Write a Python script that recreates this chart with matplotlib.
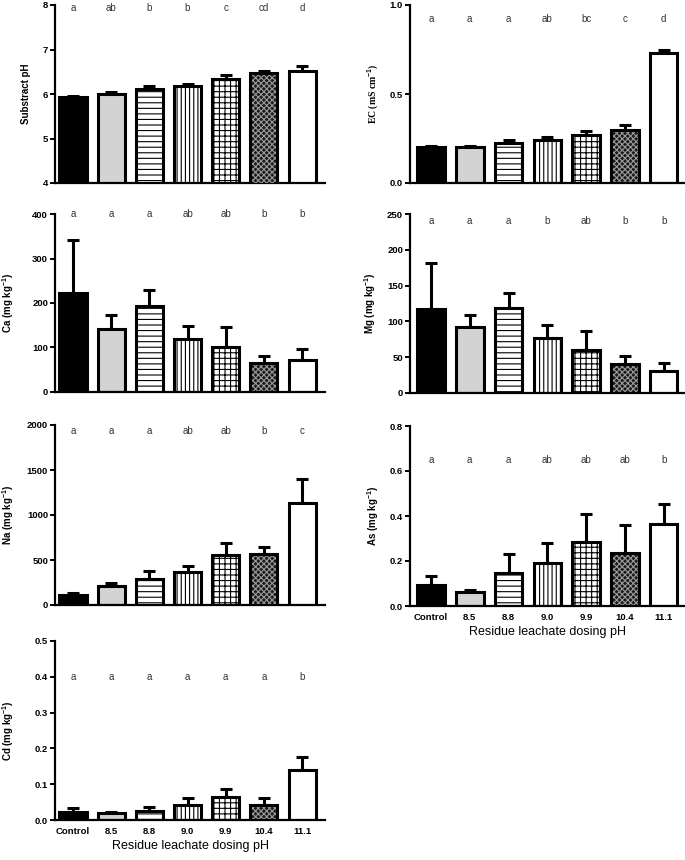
import matplotlib
matplotlib.use("Agg")
import matplotlib.pyplot as plt
import numpy as np

plt.rcParams['font.family'] = ['Liberation Sans', 'DejaVu Sans']
plt.rcParams['mathtext.fontset'] = 'custom'
plt.rcParams['mathtext.rm'] = 'Liberation Sans:bold'
plt.rcParams['mathtext.it'] = 'Liberation Sans:bold'
plt.rcParams['mathtext.bf'] = 'Liberation Sans:bold'
plt.rcParams['hatch.linewidth'] = 0.8

categories = ["Control", "8.5", "8.8", "9.0", "9.9", "10.4", "11.1"]

ph_mean = [5.93, 6.00, 6.11, 6.17, 6.34, 6.48, 6.52]
ph_err = [0.03, 0.04, 0.07, 0.05, 0.08, 0.04, 0.10]
ph_letters = ["a", "ab", "b", "b", "c", "cd", "d"]

ec_mean = [0.205, 0.200, 0.226, 0.239, 0.270, 0.297, 0.731]
ec_err = [0.005, 0.009, 0.015, 0.022, 0.023, 0.031, 0.015]
ec_letters = ["a", "a", "a", "ab", "bc", "c", "d"]

ca_mean = [221.7, 141.6, 194.0, 119.9, 101.0, 64.4, 71.2]
ca_err = [119.9, 32.2, 34.5, 29.1, 45.8, 15.6, 25.4]
ca_letters = ["a", "a", "a", "ab", "ab", "b", "b"]

mg_mean = [117.3, 92.0, 119.2, 77.1, 60.7, 40.7, 30.4]
mg_err = [64.9, 17.3, 21.0, 17.3, 25.7, 11.2, 11.2]
mg_letters = ["a", "a", "a", "b", "ab", "b", "b"]

na_mean = [107, 211, 293, 367, 552, 567, 1130]
na_err = [26, 33, 85, 66, 141, 74, 270]
na_letters = ["a", "a", "a", "ab", "ab", "b", "c"]

as_mean = [0.095, 0.061, 0.145, 0.191, 0.286, 0.234, 0.366]
as_err = [0.040, 0.009, 0.085, 0.089, 0.123, 0.126, 0.087]
as_letters = ["a", "a", "a", "ab", "ab", "ab", "b"]

cd_mean = [0.023, 0.0186, 0.026, 0.0427, 0.063, 0.0427, 0.139]
cd_err = [0.0095, 0.0037, 0.011, 0.020, 0.0224, 0.020, 0.0356]
cd_letters = ["a", "a", "a", "a", "a", "a", "b"]

faces = ["black", "#d3d3d3", "white", "white", "white", "#1a1a1a", "white"]
hatches = [None, None, "---", "||||", "+++", "xxxxxx", None]
hatch_colors = ["black", "black", "black", "black", "black", "#9a9a9a", "black"]

W, H = 685, 860
fig = plt.figure(figsize=(W / 100, H / 100), dpi=100)


def make_ax(x0, x1, ytop, ybot):
    return fig.add_axes([x0 / W, 1 - ybot / H, (x1 - x0) / W, (ybot - ytop) / H])


panels = [
    (ph_mean, ph_err, ph_letters, (4, 8), [4, 5, 6, 7, 8], ["4", "5", "6", "7", "8"],
     "Substract pH", 7.93, (55, 325, 5, 183), (-0.47, 6.6), 31, False, False),
    (ec_mean, ec_err, ec_letters, (0, 1.0), [0, 0.5, 1.0], ["0.0", "0.5", "1.0"],
     r"EC (mS cm$^{-1}$)", 0.92, (410, 685, 5, 183), (-0.54, 6.55), 381, False, True),
    (ca_mean, ca_err, ca_letters, (0, 400), [0, 100, 200, 300, 400], None,
     r"Ca (mg kg$^{-1}$)", 400, (55, 325, 214, 392), (-0.47, 6.6), 16, False, False),
    (mg_mean, mg_err, mg_letters, (0, 250), [0, 50, 100, 150, 200, 250], None,
     r"Mg (mg kg$^{-1}$)", 240, (410, 685, 214, 393), (-0.54, 6.55), 378, False, False),
    (na_mean, na_err, na_letters, (0, 2000), [0, 500, 1000, 1500, 2000], None,
     r"Na (mg kg$^{-1}$)", 1937, (55, 325, 425, 605), (-0.47, 6.6), 16, False, False),
    (as_mean, as_err, as_letters, (0, 0.8), [0, 0.2, 0.4, 0.6, 0.8], ["0.0", "0.2", "0.4", "0.6", "0.8"],
     r"As (mg kg$^{-1}$)", 0.647, (410, 685, 426, 606), (-0.54, 6.55), 381, True, False),
    (cd_mean, cd_err, cd_letters, (0, 0.5), [0, 0.1, 0.2, 0.3, 0.4, 0.5], ["0.0", "0.1", "0.2", "0.3", "0.4", "0.5"],
     r"Cd (mg kg$^{-1}$)", 0.40, (55, 325, 641, 820), (-0.47, 6.6), 16, True, False),
]

for (mean, err, letters, ylim, ticks, tlabels, ylabel, ly, pos, xlim, labx, bottom, serif) in panels:
    ax = make_ax(*pos)
    x = np.arange(len(categories))
    ax.errorbar(x, mean, yerr=[np.zeros(len(err)), err], fmt='none', ecolor='black',
                elinewidth=2.2, capsize=4.5, capthick=2.2, zorder=1, clip_on=False)
    for i in range(len(categories)):
        ax.bar(x[i], mean[i], width=0.71, color=faces[i], linewidth=0, zorder=2)
        if hatches[i]:
            ax.bar(x[i], mean[i], width=0.71, color='none', edgecolor=hatch_colors[i],
                   linewidth=0, hatch=hatches[i], zorder=3)
        ax.bar(x[i], mean[i], width=0.71, color='none', edgecolor='black',
               linewidth=2.2, zorder=4)
    for i, t in enumerate(letters):
        ax.text(x[i], ly, t, ha='center', va='center', fontsize=7, color='#333333')
    ax.set_ylim(*ylim)
    ax.set_xlim(*xlim)
    ax.set_yticks(ticks)
    if tlabels is not None:
        ax.set_yticklabels(tlabels)
    ax.spines['top'].set_visible(False)
    ax.spines['right'].set_visible(False)
    ax.spines['left'].set_linewidth(1.6)
    ax.spines['bottom'].set_linewidth(1.6)
    ax.tick_params(axis='y', direction='out', length=3.5, width=1.4, pad=1.5,
                   labelsize=6.8)
    for lab in ax.get_yticklabels():
        lab.set_fontweight('bold')
    ax.tick_params(axis='x', length=0, pad=5, labelsize=6.8)
    ax.set_xticks(x)
    if bottom:
        ax.set_xticklabels(categories, fontweight='bold')
        ax.set_xlabel("Residue leachate dosing pH", fontsize=9, labelpad=3)
    else:
        ax.set_xticklabels([])
    if serif:
        ax.set_ylabel(ylabel, fontsize=7, fontweight='bold', family='Liberation Serif')
    else:
        ax.set_ylabel(ylabel, fontsize=7, fontweight='bold')
    axw = pos[1] - pos[0]
    ax.yaxis.set_label_coords((labx - pos[0]) / axw, 0.5)

fig.savefig("out.png", dpi=100)
